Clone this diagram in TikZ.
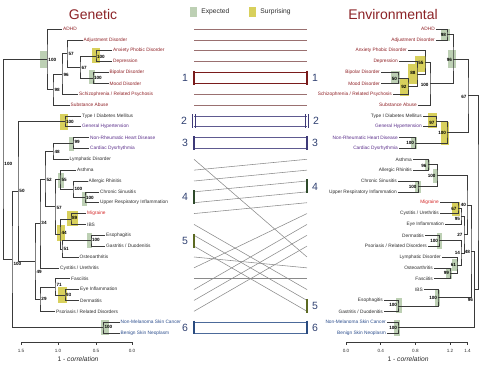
\documentclass[tikz,border=0pt]{standalone}
\usepackage{fontspec}
\setmainfont{Liberation Sans}
\usepackage{tikz}
\usetikzlibrary{positioning}
\usepackage{xcolor}
\definecolor{TitleRed}{HTML}{8C2327}
\definecolor{PsyRed}{HTML}{8E1F24}
\definecolor{MetPurple}{HTML}{5A2E8A}
\definecolor{MigRed}{HTML}{D42A2A}
\definecolor{SkinBlue}{HTML}{2A4C8C}
\definecolor{LeafGray}{HTML}{2B2B2B}
\definecolor{TreeGray}{HTML}{3A3A3A}
\definecolor{ExpGreen}{HTML}{BDD0B4}
\definecolor{SurpYellow}{HTML}{D8D05C}
\definecolor{LinkGray}{HTML}{8A8A8A}
\definecolor{LinkRed}{HTML}{9A7070}
\definecolor{LinkPurple}{HTML}{5E5A90}
\definecolor{LinkBlue}{HTML}{4C6A9A}
\definecolor{NumBlue}{HTML}{2E3F70}
\definecolor{BarRed}{HTML}{7A1C1C}
\definecolor{BarPurple}{HTML}{3E3A78}
\definecolor{BarGreen}{HTML}{2E4A2A}
\definecolor{BarOlive}{HTML}{5C6A22}
\definecolor{BarBlue}{HTML}{2B4C80}
\newcommand{\leaffont}{\fontsize{4.8}{5}\selectfont}
\newcommand{\bootfont}{\fontsize{4.6}{5}\selectfont\bfseries}
\newcommand{\grpfont}{\fontsize{10.5}{11}\selectfont}
\tikzset{
  leafL/.style={anchor=west, inner sep=1pt, font=\leaffont, text=LeafGray},
  leafR/.style={anchor=east, inner sep=1pt, font=\leaffont, text=LeafGray},
  bootL/.style={anchor=west, inner sep=0.3pt, font=\bootfont},
  bootR/.style={anchor=east, inner sep=0.3pt, font=\bootfont},
  psy/.style={text=PsyRed}, met/.style={text=MetPurple},
  mig/.style={text=MigRed}, skin/.style={text=SkinBlue},
  tree/.style={draw=TreeGray, line width=0.5pt},
  hlG/.style={fill=ExpGreen}, hlY/.style={fill=SurpYellow},
  link/.style={line width=0.55pt},
  grpbar/.style={line width=1.4pt},
  grpnum/.style={font=\grpfont, text=NumBlue},
  legbox/.style={minimum width=7pt, minimum height=10pt, inner sep=0pt},
  legtxt/.style={font=\fontsize{6.7}{8}\selectfont, text=LeafGray, inner sep=0pt},
  ticklab/.style={font=\fontsize{4.6}{5}\selectfont, text=LeafGray},
  axtitle/.style={font=\fontsize{6.7}{8}\selectfont, text=LeafGray},
  title/.style={text=TitleRed, font=\fontsize{14}{16}\selectfont}
}

\begin{document}
\begin{tikzpicture}[x=1pt, y=-1pt, font=\leaffont]
\useasboundingbox (0,0) rectangle (480,371);

% Titles and legend
\node[title] (gtitle) at (93,15) {Genetic};
\node[title] (etitle) at (393,15) {Environmental};
\node[legbox, fill=ExpGreen] (legexp) at (193.5,12) {};
\node[legtxt, right=4pt of legexp] (legexpt) {Expected};
\node[legbox, fill=SurpYellow] (legsur) at (252.5,12) {};
\node[legtxt, right=4pt of legsur] (legsurt) {Surprising};

% Highlights (genetic)
\fill[hlG] (40,51) rectangle (47,68);
\fill[hlY] (92,48) rectangle (100,63);
\fill[hlG] (89,70) rectangle (95,84);
\fill[hlY] (60,114) rectangle (68,130);
\fill[hlG] (69,137) rectangle (74,151);
\fill[hlG] (58,173) rectangle (64,188);
\fill[hlG] (82,192) rectangle (87,206);
\fill[hlY] (67,211) rectangle (78,226);
\fill[hlY] (57,225) rectangle (65,241);
\fill[hlG] (87,233) rectangle (92,248);
\fill[hlY] (58,287) rectangle (67,303);
\fill[hlG] (101,320) rectangle (109,335);

% Highlights (environmental)
\fill[hlG] (441,29) rectangle (450,41);
\fill[hlG] (448,50) rectangle (456,68);
\fill[hlY] (415,56) rectangle (426,72);
\fill[hlY] (408,64) rectangle (418,84);
\fill[hlG] (391,71) rectangle (400,84);
\fill[hlY] (400,78) rectangle (409,96);
\fill[hlY] (428,113) rectangle (437,128);
\fill[hlY] (441,122) rectangle (449,145);
\fill[hlG] (411,137) rectangle (417,149);
\fill[hlG] (425,160) rectangle (430,170);
\fill[hlG] (433,169) rectangle (438,183);
\fill[hlG] (415,181) rectangle (421,193);
\fill[hlY] (452,202) rectangle (460,216);
\fill[hlG] (437,233) rectangle (442,249);
\fill[hlG] (452,259) rectangle (458,271);
\fill[hlG] (446,268) rectangle (452,279);
\fill[hlG] (435,290) rectangle (440,306);
\fill[hlG] (396,298) rectangle (402,313);
\fill[hlG] (394,320) rectangle (400,336);

% Genetic leaves
\node[leafL, psy] (gADHD) at (62,29.0) {ADHD};
\node[leafL, psy] (gAdj) at (82.5,39.9) {Adjustment Disorder};
\node[leafL, psy] (gAnx) at (112,50.7) {Anxiety Phobic Disorder};
\node[leafL, psy] (gDep) at (112,61.6) {Depression};
\node[leafL, psy] (gBip) at (108.5,72.4) {Bipolar Disorder};
\node[leafL, psy] (gMood) at (108.5,83.3) {Mood Disorder};
\node[leafL, psy] (gSchz) at (78,94.1) {Schizophrenia / Related Psychosis};
\node[leafL, psy] (gSub) at (69.5,105.0) {Substance Abuse};
\node[leafL] (gDiab) at (81,115.9) {Type I Diabetes Mellitus};
\node[leafL, met] (gHyp) at (81,126.7) {General Hypertension};
\node[leafL, met] (gNRHD) at (89,137.6) {Non-Rheumatic Heart Disease};
\node[leafL, met] (gCD) at (89,148.4) {Cardiac Dysrhythmia};
\node[leafL] (gLym) at (68.5,159.3) {Lymphatic Disorder};
\node[leafL] (gAst) at (76,170.1) {Asthma};
\node[leafL] (gAR) at (87.5,181.0) {Allergic Rhinitis};
\node[leafL] (gCS) at (99,191.9) {Chronic Sinusitis};
\node[leafL] (gURI) at (99,202.7) {Upper Respiratory Inflammation};
\node[leafL, mig] (gMig) at (86,213.6) {Migraine};
\node[leafL] (gIBS) at (86,224.4) {IBS};
\node[leafL] (gEso) at (105,235.3) {Esophagitis};
\node[leafL] (gGas) at (105,246.1) {Gastritis / Duodenitis};
\node[leafL] (gOst) at (78.5,257.0) {Osteoarthritis};
\node[leafL] (gCys) at (59,267.9) {Cystitis / Urethritis};
\node[leafL] (gFas) at (70,278.7) {Fasciitis};
\node[leafL] (gEye) at (79,289.6) {Eye Inflammation};
\node[leafL] (gDer) at (79,300.4) {Dermatitis};
\node[leafL] (gPso) at (55,311.3) {Psoriasis / Related Disorders};
\node[leafL, skin] (gNMS) at (119.5,322.1) {Non-Melanoma Skin Cancer};
\node[leafL, skin] (gBSN) at (119.5,333.0) {Benign Skin Neoplasm};

% Genetic joins
\coordinate (gAD) at (96,56.15);
\coordinate (gBM) at (93,77.86);
\coordinate (g67) at (80,67.0);
\coordinate (g57) at (67,53.45);
\coordinate (g96) at (62,73.8);
\coordinate (g98) at (53,89.4);
\coordinate (gPsy) at (47,59.2);
\coordinate (gDH) at (65,121.3);
\coordinate (gNC) at (73,143.0);
\coordinate (g48) at (53,151.15);
\coordinate (gCU) at (85,197.3);
\coordinate (gAC) at (73,189.15);
\coordinate (g55) at (60,179.6);
\coordinate (gMI) at (71,219.0);
\coordinate (gEG) at (91,240.7);
\coordinate (g51) at (62,248.85);
\coordinate (g44) at (60,233.9);
\coordinate (g57b) at (55,206.75);
\coordinate (g52) at (45,178.95);
\coordinate (g34) at (40,223.4);
\coordinate (gED) at (65,295.0);
\coordinate (g71) at (55,286.85);
\coordinate (g29) at (40,299.1);
\coordinate (g49) at (35,261.25);
\coordinate (g50) at (18,191.3);
\coordinate (gSk) at (103,327.55);
\coordinate (gA) at (12,259.4);
\coordinate (gRoot) at (3,159.3);

\draw[tree] (gAnx.west) -| (gAD) |- (gDep.west);
\draw[tree] (gBip.west) -| (gBM) |- (gMood.west);
\draw[tree] (gAD) -| (g67) |- (gBM);
\draw[tree] (gAdj.west) -| (g57) |- (g67);
\draw[tree] (g57) -| (g96) |- (gSchz.west);
\draw[tree] (g96) -| (g98) |- (gSub.west);
\draw[tree] (gADHD.west) -| (gPsy) |- (g98);
\draw[tree] (gDiab.west) -| (gDH) |- (gHyp.west);
\draw[tree] (gNRHD.west) -| (gNC) |- (gCD.west);
\draw[tree] (gNC) -| (g48) |- (gLym.west);
\draw[tree] (gCS.west) -| (gCU) |- (gURI.west);
\draw[tree] (gAR.west) -| (gAC) |- (gCU);
\draw[tree] (gAst.west) -| (g55) |- (gAC);
\draw[tree] (gMig.west) -| (gMI) |- (gIBS.west);
\draw[tree] (gEso.west) -| (gEG) |- (gGas.west);
\draw[tree] (gEG) -| (g51) |- (gOst.west);
\draw[tree] (gMI) -| (g44) |- (g51);
\draw[tree] (g55) -| (g57b) |- (g44);
\draw[tree] (g48) -| (g52) |- (g57b);
\draw[tree] (g52) -| (g34) |- (gCys.west);
\draw[tree] (gEye.west) -| (gED) |- (gDer.west);
\draw[tree] (gFas.west) -| (g71) |- (gED);
\draw[tree] (g71) -| (g29) |- (gPso.west);
\draw[tree] (g34) -| (g49) |- (g29);
\draw[tree] (gDH) -| (g50) |- (g49);
\draw[tree] (gNMS.west) -| (gSk) |- (gBSN.west);
\draw[tree] (g50) -| (gA) |- (gSk);
\draw[tree] (gPsy) -| (gRoot) |- (gA);

% Genetic support values
\node[bootL] (bRoot) at (4,164) {100};
\node[bootL] (bPsy) at (48,60) {100};
\node[bootL] (b57) at (68,54) {57};
\node[bootL] (b67) at (81,68) {67};
\node[bootL] (bAD) at (96.5,57) {100};
\node[bootL] (bBM) at (93.5,78) {100};
\node[bootL] (b96) at (63,75) {96};
\node[bootL] (b98) at (54,90) {98};
\node[bootL] (bDH) at (65.5,122) {100};
\node[bootL] (bNC) at (74,142) {99};
\node[bootL] (b48) at (54,152) {48};
\node[bootL] (b52) at (46,180) {52};
\node[bootL] (b55) at (61,180) {55};
\node[bootL] (bAC) at (74,189) {100};
\node[bootL] (bCU) at (85.5,198) {100};
\node[bootL] (b57b) at (56,208) {57};
\node[bootL] (bMI) at (71.5,218) {89};
\node[bootL] (b44) at (61,233) {44};
\node[bootL] (bEG) at (91.5,240) {100};
\node[bootL] (b51) at (63,249) {51};
\node[bootL] (b34) at (41,223) {34};
\node[bootL] (b50) at (19,191) {50};
\node[bootL] (bA) at (13,264) {100};
\node[bootL] (b49) at (36,272) {49};
\node[bootL] (b71) at (56,285) {71};
\node[bootL] (bED) at (65.5,295) {93};
\node[bootL] (b29) at (41,299) {29};
\node[bootL] (bSk) at (104,327) {100};

% Environmental leaves
\node[leafR, psy] (eADHD) at (436,29.0) {ADHD};
\node[leafR, psy] (eAdj) at (436,39.9) {Adjustment Disorder};
\node[leafR, psy] (eAnx) at (408,50.7) {Anxiety Phobic Disorder};
\node[leafR, psy] (eDep) at (399,61.6) {Depression};
\node[leafR, psy] (eBip) at (381,72.4) {Bipolar Disorder};
\node[leafR, psy] (eMood) at (381,83.3) {Mood Disorder};
\node[leafR, psy] (eSchz) at (393,94.1) {Schizophrenia / Related Psychosis};
\node[leafR, psy] (eSub) at (418,105.0) {Substance Abuse};
\node[leafR] (eDiab) at (423,115.9) {Type I Diabetes Mellitus};
\node[leafR, met] (eHyp) at (423,126.7) {General Hypertension};
\node[leafR, met] (eNRHD) at (399,137.6) {Non-Rheumatic Heart Disease};
\node[leafR, met] (eCD) at (399,148.4) {Cardiac Dysrhythmia};
\node[leafR] (eAst) at (413,159.3) {Asthma};
\node[leafR] (eAR) at (413,170.1) {Allergic Rhinitis};
\node[leafR] (eCS) at (398,181.0) {Chronic Sinusitis};
\node[leafR] (eURI) at (398,191.9) {Upper Respiratory Inflammation};
\node[leafR, mig] (eMig) at (440,202.7) {Migraine};
\node[leafR] (eCys) at (440,213.6) {Cystitis / Urethritis};
\node[leafR] (eEye) at (445,224.4) {Eye Inflammation};
\node[leafR] (eDer) at (425,235.3) {Dermatitis};
\node[leafR] (ePso) at (428,246.1) {Psoriasis / Related Disorders};
\node[leafR] (eLym) at (442,257.0) {Lymphatic Disorder};
\node[leafR] (eOst) at (434,267.9) {Osteoarthritis};
\node[leafR] (eFas) at (434,278.7) {Fasciitis};
\node[leafR] (eIBS) at (424,289.6) {IBS};
\node[leafR] (eEso) at (384,300.4) {Esophagitis};
\node[leafR] (eGas) at (384,311.3) {Gastritis / Duodenitis};
\node[leafR, skin] (eNMS) at (387,322.1) {Non-Melanoma Skin Cancer};
\node[leafR, skin] (eBSN) at (387,333.0) {Benign Skin Neoplasm};

% Environmental joins
\coordinate (eAA) at (447,34.45);
\coordinate (eBM) at (398,77.86);
\coordinate (e92) at (408,85.98);
\coordinate (e88) at (417,73.79);
\coordinate (e55) at (425,62.25);
\coordinate (ePs) at (430,83.6);
\coordinate (e96) at (453,59.0);
\coordinate (eDH) at (436,121.3);
\coordinate (eNC) at (415,143.0);
\coordinate (eMet) at (447,132.15);
\coordinate (e67) at (468,95.6);
\coordinate (eAAR) at (428,164.7);
\coordinate (eCU) at (418,186.45);
\coordinate (eRes) at (437,175.6);
\coordinate (eMC) at (458,208.15);
\coordinate (e95) at (461,216.3);
\coordinate (eDP) at (439,240.7);
\coordinate (eOF) at (450,273.3);
\coordinate (e61) at (457,265.15);
\coordinate (e14) at (461,252.9);
\coordinate (e27) at (464,234.6);
\coordinate (e40) at (467,205.1);
\coordinate (eEG) at (398,305.85);
\coordinate (eIE) at (438,297.7);
\coordinate (e48) at (471,251.4);
\coordinate (eSk) at (398,327.55);
\coordinate (e96b) at (474.5,289.5);
\coordinate (eRoot) at (478,192.5);

\draw[tree] (eADHD.east) -| (eAA) |- (eAdj.east);
\draw[tree] (eBip.east) -| (eBM) |- (eMood.east);
\draw[tree] (eBM) -| (e92) |- (eSchz.east);
\draw[tree] (eDep.east) -| (e88) |- (e92);
\draw[tree] (eAnx.east) -| (e55) |- (e88);
\draw[tree] (e55) -| (ePs) |- (eSub.east);
\draw[tree] (eAA) -| (e96) |- (ePs);
\draw[tree] (eDiab.east) -| (eDH) |- (eHyp.east);
\draw[tree] (eNRHD.east) -| (eNC) |- (eCD.east);
\draw[tree] (eDH) -| (eMet) |- (eNC);
\draw[tree] (e96) -| (e67) |- (eMet);
\draw[tree] (eAst.east) -| (eAAR) |- (eAR.east);
\draw[tree] (eCS.east) -| (eCU) |- (eURI.east);
\draw[tree] (eAAR) -| (eRes) |- (eCU);
\draw[tree] (eMig.east) -| (eMC) |- (eCys.east);
\draw[tree] (eMC) -| (e95) |- (eEye.east);
\draw[tree] (eDer.east) -| (eDP) |- (ePso.east);
\draw[tree] (eOst.east) -| (eOF) |- (eFas.east);
\draw[tree] (eLym.east) -| (e61) |- (eOF);
\draw[tree] (eDP) -| (e14) |- (e61);
\draw[tree] (e95) -| (e27) |- (e14);
\draw[tree] (eRes) -| (e40) |- (e27);
\draw[tree] (eEso.east) -| (eEG) |- (eGas.east);
\draw[tree] (eIBS.east) -| (eIE) |- (eEG);
\draw[tree] (e40) -| (e48) |- (eIE);
\draw[tree] (eNMS.east) -| (eSk) |- (eBSN.east);
\draw[tree] (e48) -| (e96b) |- (eSk);
\draw[tree] (e67) -| (eRoot) |- (e96b);

% Environmental support values
\node[bootR] (cAA) at (446.5,35) {98};
\node[bootR] (c96) at (452.5,60) {96};
\node[bootR] (c55) at (424,63) {55};
\node[bootR] (c88) at (416,73) {88};
\node[bootR] (cBM) at (397.5,79) {50};
\node[bootR] (c92) at (407,87) {92};
\node[bootR] (cPs) at (429,85) {100};
\node[bootR] (c67) at (467,97) {67};
\node[bootR] (cDH) at (435,123) {97};
\node[bootR] (cMet) at (446.5,133) {100};
\node[bootR] (cNC) at (414.5,143) {100};
\node[bootR] (cAAR) at (427,166) {96};
\node[bootR] (cRes) at (436,176) {100};
\node[bootR] (cCU) at (417,187) {100};
\node[bootR] (cMC) at (457,209) {67};
\node[bootR] (c40) at (466.5,205) {40};
\node[bootR] (c95) at (460.5,219) {95};
\node[bootR] (c27) at (463,235) {27};
\node[bootR] (cDP) at (438.5,241) {100};
\node[bootR] (c14) at (460.5,253) {14};
\node[bootR] (c48) at (470.5,252) {48};
\node[bootR] (c61) at (456.5,265) {61};
\node[bootR] (cOF) at (449.5,273) {99};
\node[bootR] (cIE) at (437.5,298) {100};
\node[bootR] (c96b) at (473.5,300) {96};
\node[bootR] (cEG) at (397.5,305) {100};
\node[bootR] (cSk) at (397.5,328) {100};

% Tanglegram
\foreach \i in {1,...,29} {
  \coordinate (mL\i) at (194,{29+(\i-1)*10.857});
  \coordinate (mR\i) at (307,{29+(\i-1)*10.857});
}
\foreach \a/\b/\c in {1/1/LinkRed, 2/2/LinkRed, 3/3/LinkRed, 4/4/LinkRed,
    5/5/BarRed, 6/6/BarRed, 7/7/LinkRed, 8/8/LinkRed,
    9/9/LinkPurple, 10/10/LinkPurple, 11/11/LinkPurple, 12/12/LinkPurple,
    13/22/LinkGray, 14/13/LinkGray, 15/14/LinkGray, 16/15/LinkGray, 17/16/LinkGray,
    18/17/LinkGray, 19/25/LinkGray, 20/26/LinkGray, 21/27/LinkGray, 22/23/LinkGray,
    23/18/LinkGray, 24/24/LinkGray, 25/19/LinkGray, 26/20/LinkGray, 27/21/LinkGray,
    28/28/LinkBlue, 29/29/LinkBlue}
  \draw[link, draw=\c] (mL\a) -- (mR\b);

% Group bars
\draw[grpbar, BarRed] ([yshift=1.5pt]mL5) -- ([yshift=-1.5pt]mL6);
\draw[grpbar, BarRed] ([yshift=1.5pt]mR5) -- ([yshift=-1.5pt]mR6);
\draw[grpbar, BarPurple] ([xshift=-1.6pt,yshift=1.5pt]mL9) -- ([xshift=-1.6pt,yshift=-1.5pt]mL10);
\draw[grpbar, BarPurple] ([xshift=1.6pt,yshift=1.5pt]mL9) -- ([xshift=1.6pt,yshift=-1.5pt]mL10);
\draw[grpbar, BarPurple] ([xshift=-1.6pt,yshift=1.5pt]mR9) -- ([xshift=-1.6pt,yshift=-1.5pt]mR10);
\draw[grpbar, BarPurple] ([xshift=1.6pt,yshift=1.5pt]mR9) -- ([xshift=1.6pt,yshift=-1.5pt]mR10);
\draw[grpbar, BarPurple] ([yshift=1.5pt]mL11) -- ([yshift=-1.5pt]mL12);
\draw[grpbar, BarPurple] ([yshift=1.5pt]mR11) -- ([yshift=-1.5pt]mR12);
\draw[grpbar, BarGreen] ([yshift=1.5pt]mL16) -- ([yshift=-1.5pt]mL17);
\draw[grpbar, BarGreen] ([yshift=1.5pt]mR15) -- ([yshift=-1.5pt]mR16);
\draw[grpbar, BarOlive] ([yshift=1.5pt]mL20) -- ([yshift=-1.5pt]mL21);
\draw[grpbar, BarOlive] ([yshift=1.5pt]mR26) -- ([yshift=-1.5pt]mR27);
\draw[grpbar, BarBlue] ([yshift=1.5pt]mL28) -- ([yshift=-1.5pt]mL29);
\draw[grpbar, BarBlue] ([yshift=1.5pt]mR28) -- ([yshift=-1.5pt]mR29);

% Group numbers
\node[grpnum] (nL1) at (185,77.9) {1};
\node[grpnum] (nR1) at (315,77.9) {1};
\node[grpnum] (nL2) at (184,121.3) {2};
\node[grpnum] (nR2) at (316,121.3) {2};
\node[grpnum] (nL3) at (185,143.0) {3};
\node[grpnum] (nR3) at (315,143.0) {3};
\node[grpnum] (nL4) at (185,197.3) {4};
\node[grpnum] (nR4) at (315,186.4) {4};
\node[grpnum] (nL5) at (185,240.7) {5};
\node[grpnum] (nR5) at (315,305.9) {5};
\node[grpnum] (nL6) at (185,327.6) {6};
\node[grpnum] (nR6) at (315,327.6) {6};

% Axes
\draw[tree] (21,342.5) -- (132,342.5);
\foreach \x/\t [count=\k] in {21/1.5, 58/1.0, 96/0.5, 132/0.0} {
  \draw[tree] (\x,342.5) -- (\x,345.5);
  \node[ticklab] (tl\k) at (\x,350.5) {\t};
}
\node[axtitle] (laxt) at (78,359) {1 - \textit{correlation}};
\draw[tree] (346,342.5) -- (467.5,342.5);
\foreach \x/\t [count=\k] in {346/0.0, 380.7/0.4, 415.4/0.8, 450.1/1.2, 467.5/1.4} {
  \draw[tree] (\x,342.5) -- (\x,345.5);
  \node[ticklab] (tr\k) at (\x,350.5) {\t};
}
\node[axtitle] (raxt) at (408,359) {1 - \textit{correlation}};
\end{tikzpicture}
\end{document}
